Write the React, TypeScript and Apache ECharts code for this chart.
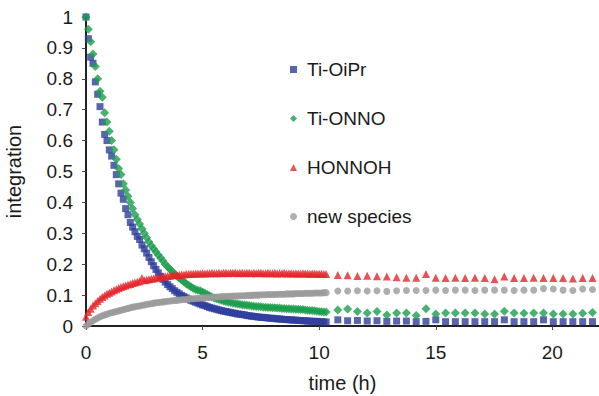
import React, { useEffect, useRef } from "react";
import * as echarts from "echarts";

const denseTimes = [
  0.0, 0.1, 0.2, 0.3, 0.4, 0.5, 0.6, 0.7, 0.8, 0.9,
  1.0, 1.1, 1.2, 1.3, 1.4, 1.5, 1.6, 1.7, 1.8, 1.9,
  2.0, 2.1, 2.2, 2.3, 2.4, 2.5, 2.6, 2.7, 2.8, 2.9,
  3.0, 3.1, 3.2, 3.3, 3.4, 3.5, 3.6, 3.7, 3.8, 3.9,
  4.0, 4.1, 4.2, 4.3, 4.4, 4.5, 4.6, 4.7, 4.8, 4.9,
  5.0, 5.1, 5.2, 5.3, 5.4, 5.5, 5.6, 5.7, 5.8, 5.9,
  6.0, 6.1, 6.2, 6.3, 6.4, 6.5, 6.6, 6.7, 6.8, 6.9,
  7.0, 7.1, 7.2, 7.3, 7.4, 7.5, 7.6, 7.7, 7.8, 7.9,
  8.0, 8.1, 8.2, 8.3, 8.4, 8.5, 8.6, 8.7, 8.8, 8.9,
  9.0, 9.1, 9.2, 9.3, 9.4, 9.5, 9.6, 9.7, 9.8, 9.9,
  10.0, 10.1, 10.2, 10.3,
];
const sparseTimes = [
  10.8, 11.22, 11.64, 12.06, 12.48, 12.9, 13.32, 13.74, 14.16, 14.58,
  15.0, 15.42, 15.84, 16.26, 16.68, 17.1, 17.52, 17.94, 18.36, 18.78,
  19.2, 19.62, 20.04, 20.46, 20.88, 21.3, 21.72,
];

const tiOiPr = [
  1.0, 0.93, 0.87, 0.85, 0.79, 0.75, 0.71, 0.66, 0.62, 0.6,
  0.57, 0.55, 0.52, 0.49, 0.46, 0.43, 0.41, 0.38, 0.36, 0.335,
  0.32, 0.305, 0.29, 0.28, 0.262, 0.25, 0.236, 0.222, 0.208, 0.195,
  0.183, 0.172, 0.161, 0.151, 0.142, 0.134, 0.127, 0.121, 0.114, 0.109,
  0.104, 0.099, 0.095, 0.091, 0.087, 0.083, 0.08, 0.077, 0.074, 0.071,
  0.068, 0.066, 0.063, 0.06, 0.058, 0.056, 0.054, 0.052, 0.05, 0.048,
  0.047, 0.045, 0.044, 0.042, 0.041, 0.039, 0.038, 0.037, 0.036, 0.034,
  0.033, 0.032, 0.031, 0.03, 0.029, 0.028, 0.028, 0.027, 0.026, 0.025,
  0.025, 0.024, 0.023, 0.023, 0.022, 0.021, 0.021, 0.02, 0.02, 0.019,
  0.019, 0.018, 0.018, 0.017, 0.017, 0.016, 0.016, 0.015, 0.015, 0.015,
  0.014, 0.014, 0.013, 0.013,
  0.02, 0.017, 0.018, 0.016, 0.017, 0.015, 0.016, 0.016, 0.014, 0.015,
  0.02, 0.014, 0.014, 0.014, 0.014, 0.014, 0.014, 0.02, 0.014, 0.014,
  0.014, 0.02, 0.014, 0.014, 0.014, 0.014, 0.014,
];

const tiONNO = [
  1.0, 0.96, 0.92, 0.88, 0.84, 0.8, 0.76, 0.74, 0.69, 0.66,
  0.63, 0.6, 0.57, 0.54, 0.51, 0.49, 0.46, 0.44, 0.42, 0.4,
  0.38, 0.36, 0.345, 0.33, 0.315, 0.3, 0.286, 0.272, 0.26, 0.25,
  0.24, 0.23, 0.22, 0.21, 0.2, 0.192, 0.184, 0.176, 0.168, 0.161,
  0.155, 0.149, 0.143, 0.137, 0.132, 0.127, 0.122, 0.118, 0.116, 0.114,
  0.11, 0.106, 0.102, 0.098, 0.094, 0.091, 0.088, 0.086, 0.083, 0.081,
  0.079, 0.077, 0.076, 0.074, 0.073, 0.071, 0.07, 0.069, 0.068, 0.067,
  0.066, 0.065, 0.064, 0.063, 0.063, 0.062, 0.061, 0.061, 0.06, 0.06,
  0.059, 0.059, 0.058, 0.058, 0.057, 0.057, 0.056, 0.056, 0.055, 0.055,
  0.054, 0.054, 0.053, 0.053, 0.052, 0.051, 0.05, 0.05, 0.049, 0.048,
  0.047, 0.046, 0.045, 0.045,
  0.052, 0.055, 0.047, 0.042, 0.047, 0.036, 0.042, 0.042, 0.034, 0.056,
  0.039, 0.042, 0.042, 0.042, 0.042, 0.039, 0.039, 0.048, 0.042, 0.041,
  0.042, 0.042, 0.039, 0.039, 0.039, 0.041, 0.044,
];

const honnoh = [
  0.03, 0.045, 0.056, 0.066, 0.074, 0.081, 0.088, 0.094, 0.099, 0.104,
  0.108, 0.112, 0.116, 0.119, 0.123, 0.126, 0.129, 0.131, 0.134, 0.136,
  0.139, 0.141, 0.143, 0.145, 0.155, 0.148, 0.15, 0.151, 0.153, 0.154,
  0.156, 0.157, 0.158, 0.159, 0.161, 0.162, 0.163, 0.164, 0.165, 0.165,
  0.166, 0.167, 0.167, 0.168, 0.168, 0.169, 0.169, 0.17, 0.17, 0.17,
  0.171, 0.17, 0.171, 0.171, 0.172, 0.171, 0.171, 0.172, 0.171, 0.172,
  0.172, 0.171, 0.172, 0.172, 0.173, 0.171, 0.172, 0.172, 0.171, 0.172,
  0.172, 0.171, 0.172, 0.171, 0.172, 0.172, 0.171, 0.171, 0.172, 0.171,
  0.171, 0.172, 0.17, 0.171, 0.171, 0.172, 0.17, 0.171, 0.171, 0.17,
  0.171, 0.17, 0.17, 0.171, 0.17, 0.17, 0.169, 0.17, 0.17, 0.169,
  0.169, 0.169, 0.168, 0.168,
  0.165, 0.164, 0.162, 0.163, 0.161, 0.16, 0.158, 0.156, 0.156, 0.168,
  0.156, 0.155, 0.156, 0.155, 0.156, 0.155, 0.151, 0.16, 0.155, 0.155,
  0.156, 0.155, 0.155, 0.155, 0.154, 0.155, 0.155,
];

const newSpecies = [
  0.0, 0.006, 0.012, 0.017, 0.022, 0.026, 0.03, 0.033, 0.036, 0.038,
  0.041, 0.043, 0.045, 0.047, 0.049, 0.051, 0.053, 0.055, 0.057, 0.059,
  0.061, 0.062, 0.064, 0.065, 0.067, 0.068, 0.07, 0.071, 0.072, 0.074,
  0.075, 0.076, 0.077, 0.078, 0.079, 0.08, 0.081, 0.082, 0.083, 0.083,
  0.084, 0.085, 0.086, 0.086, 0.087, 0.088, 0.088, 0.089, 0.09, 0.09,
  0.091, 0.091, 0.092, 0.092, 0.093, 0.093, 0.094, 0.094, 0.095, 0.095,
  0.096, 0.096, 0.096, 0.097, 0.097, 0.097, 0.098, 0.098, 0.098, 0.099,
  0.099, 0.099, 0.1, 0.1, 0.1, 0.101, 0.101, 0.101, 0.102, 0.102,
  0.102, 0.102, 0.103, 0.103, 0.103, 0.103, 0.104, 0.104, 0.104, 0.104,
  0.105, 0.105, 0.105, 0.105, 0.106, 0.106, 0.106, 0.106, 0.107, 0.107,
  0.107, 0.107, 0.108, 0.108,
  0.113, 0.113, 0.114, 0.113, 0.114, 0.112, 0.114, 0.115, 0.115, 0.115,
  0.116, 0.115, 0.116, 0.116, 0.115, 0.116, 0.116, 0.116, 0.115, 0.116,
  0.116, 0.121, 0.12, 0.116, 0.115, 0.12, 0.118,
];

const xTicks = [0, 5, 10, 15, 20];
const seriesNames = ["Ti-OiPr", "Ti-ONNO", "HONNOH", "new species"];

const FONT = "'Liberation Sans', Arial, Helvetica, sans-serif";

export default function App() {
  const ref = useRef<HTMLDivElement>(null);
  useEffect(() => {
    if (!ref.current) return;
    const chart = echarts.init(ref.current, undefined, { renderer: "svg" });
    const times = denseTimes.concat(sparseTimes);
    const pair = (vals: number[]) => times.map((t, i) => [t, vals[i]]);
    const defs = [
      { name: seriesNames[0], vals: tiOiPr, color: "#2f3d9c", symbol: "rect", size: 7 },
      { name: seriesNames[1], vals: tiONNO, color: "#1c9e4c", symbol: "diamond", size: 9 },
      { name: seriesNames[2], vals: honnoh, color: "#e3262b", symbol: "triangle", size: 8 },
      { name: seriesNames[3], vals: newSpecies, color: "#9a9a9a", symbol: "circle", size: 7 },
    ];
    chart.setOption({
      animation: false,
      backgroundColor: "#ffffff",
      textStyle: { fontFamily: FONT },
      grid: { left: 86, right: 0, top: 17, bottom: 70, outerBoundsMode: "none", containLabel: false },
      legend: {
        orient: "vertical",
        left: 290,
        top: 60,
        itemGap: 30,
        itemWidth: 7,
        itemHeight: 7,
        padding: 0,
        textStyle: { fontSize: 19, color: "#1a1a1a", fontFamily: FONT, padding: [0, 0, 0, 5] },
        data: defs.map((d) => d.name),
      },
      xAxis: [
        {
          type: "value",
          min: 0,
          max: 22,
          interval: 5,
          name: "time (h)",
          nameLocation: "middle",
          nameGap: 47,
          nameTextStyle: { fontSize: 20, color: "#1a1a1a", fontFamily: FONT },
          axisLine: { show: true, onZero: false, lineStyle: { color: "#222", width: 2 } },
          axisTick: { show: true, length: 4, customValues: xTicks, lineStyle: { color: "#444" } },
          axisLabel: { customValues: xTicks, fontSize: 19, color: "#1a1a1a", margin: 17, fontFamily: FONT },
          splitLine: { show: false },
        },
        {
          type: "value",
          position: "top",
          min: 0,
          max: 22,
          axisLine: { show: true, lineStyle: { color: "#222", width: 2 } },
          axisTick: { show: false },
          axisLabel: { show: false },
          splitLine: { show: false },
        },
      ],
      yAxis: {
        type: "value",
        min: 0,
        max: 1,
        interval: 0.1,
        name: "integration",
        nameLocation: "middle",
        nameGap: 62,
        nameTextStyle: { fontSize: 20, color: "#1a1a1a", fontFamily: FONT },
        axisLine: { show: true, lineStyle: { color: "#222", width: 2 } },
        axisTick: { show: true, length: 4, lineStyle: { color: "#444" } },
        axisLabel: { fontSize: 19, color: "#1a1a1a", margin: 13, fontFamily: FONT },
        splitLine: { show: false },
      },
      series: defs.map((d) => ({
        type: "scatter",
        name: d.name,
        data: pair(d.vals),
        symbol: d.symbol,
        symbolSize: d.size,
        itemStyle: { color: d.color },
        xAxisIndex: 0,
      })),
    });
    return () => chart.dispose();
  }, []);
  return (
    <div
      ref={ref}
      style={{ position: "absolute", left: 0, top: 0, width: 599, height: 396 }}
    />
  );
}
